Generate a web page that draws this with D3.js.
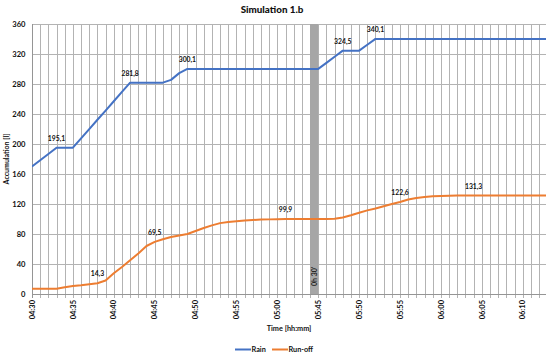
<!DOCTYPE html>
<html>
<head>
<meta charset="utf-8">
<script src="https://cdn.jsdelivr.net/npm/d3@7"></script>
<style>
  html, body { margin: 0; padding: 0; background: #fff; }
  svg { display: block; font-family: Lato, "Open Sans", sans-serif; }
</style>
</head>
<body>
<svg id="chart" width="550" height="356"></svg>
<script>
// ---- Data (one value per minute step on the category axis) ----
const tickLabels = ["04:30","04:35","04:40","04:45","04:50","04:55","05:00","05:45","05:50","05:55","06:00","06:05","06:10"];
const tickStep = 5;
const yTicks = [0, 40, 80, 120, 160, 200, 240, 280, 320, 360];

const rain = [
  170, 178.4, 186.7, 195.1, 195.1, 195.1, 207.5, 219.9, 232.3, 244.6,
  257.0, 269.4, 281.8, 281.8, 281.8, 281.8, 281.8, 285.5, 294.5, 300.1,
  300.1, 300.1, 300.1, 300.1, 300.1, 300.1, 300.1, 300.1, 300.1, 300.1,
  300.1, 300.1, 300.1, 300.1, 300.1, 300.1, 308.2, 316.3, 324.5, 324.5,
  324.5, 332.3, 340.1, 340.1, 340.1, 340.1, 340.1, 340.1, 340.1, 340.1,
  340.1, 340.1, 340.1, 340.1, 340.1, 340.1, 340.1, 340.1, 340.1, 340.1,
  340.1, 340.1, 340.1, 340.1
];
const runoff = [
  7, 7, 7, 7, 9, 10.7, 11.6, 12.9, 14.3, 18,
  27.6, 36, 45, 54, 64, 69.5, 73, 76, 78, 80,
  84, 88, 91.5, 94.5, 96, 97, 98, 98.7, 99.2, 99.5,
  99.7, 99.9, 99.9, 99.9, 99.9, 99.9, 99.9, 100.2, 102, 105,
  108.4, 111.5, 114, 117, 120, 122.6, 126, 128, 129.3, 130.2,
  130.7, 131, 131.2, 131.3, 131.3, 131.3, 131.3, 131.3, 131.3, 131.3,
  131.3, 131.3, 131.3, 131.3
];
const rainLabelIdx = [3, 12, 19, 38, 42];
const runoffLabelIdx = [8, 15, 31, 45, 54];
const breakIdx = [34, 35];          // grey band marking the time gap
const breakText = "0h 30'";
const seriesNames = ["Rain", "Run-off"];
const seriesColors = ["#4472C4", "#ED7D31"];

// ---- Layout ----
const svg = d3.select("#chart");
const pL = 32, pR = 546, pT = 24, pB = 294;
const x = d3.scaleLinear().domain([0, 62.85]).range([pL, pR]);
const y = d3.scaleLinear().domain([0, 360]).range([pB, pT]);
const textCol = "#111";
const gridCol = "#b3b3b3";
const fmt = v => d3.format(".1f")(v).replace(".", ",");

svg.append("defs").append("clipPath").attr("id", "plotclip")
  .append("rect").attr("x", pL).attr("y", pT - 5).attr("width", pR - pL).attr("height", pB - pT + 10);

// title
svg.append("text").attr("x", 272).attr("y", 12.5).attr("text-anchor", "middle")
  .attr("font-size", 9.8).attr("font-weight", "900").attr("fill", textCol).text("Simulation 1.b");

// horizontal gridlines
svg.append("g").selectAll("line").data(yTicks.filter(d => d > 0)).join("line")
  .attr("x1", pL).attr("x2", pR)
  .attr("y1", d => Math.round(y(d)) + 0.5).attr("y2", d => Math.round(y(d)) + 0.5)
  .attr("stroke", gridCol).attr("stroke-width", 1);

// vertical gridlines + ticks below axis
const vIdx = d3.range(0, 63);
svg.append("g").selectAll("line").data(vIdx).join("line")
  .attr("x1", d => Math.round(x(d)) + 0.5).attr("x2", d => Math.round(x(d)) + 0.5)
  .attr("y1", pT).attr("y2", pB + 4)
  .attr("stroke", d => d === 0 ? "#959595" : gridCol).attr("stroke-width", 1);

// x axis line
svg.append("line").attr("x1", pL).attr("x2", pR)
  .attr("y1", Math.round(y(0)) + 0.5).attr("y2", Math.round(y(0)) + 0.5)
  .attr("stroke", "#959595").attr("stroke-width", 1);

// grey break band
svg.append("rect")
  .attr("x", x(breakIdx[0])).attr("width", x(breakIdx[1]) - x(breakIdx[0]))
  .attr("y", pT).attr("height", pB - pT)
  .attr("fill", "#a6a6a6");
const bx = (x(breakIdx[0]) + x(breakIdx[1])) / 2;
svg.append("text")
  .attr("transform", `translate(${bx + 2.5},${pB - 8}) rotate(-90)`)
  .attr("font-size", 7).attr("font-weight", "bold").attr("fill", "#222")
  .text(breakText);

// y tick labels
svg.append("g").selectAll("text").data(yTicks).join("text")
  .attr("x", 25.5).attr("y", d => y(d) + 2.6).attr("text-anchor", "end")
  .attr("font-size", 7.6).attr("font-weight", "bold").attr("fill", textCol)
  .text(d => d);

// y axis title
svg.append("text")
  .attr("transform", `translate(8.5,${(pT + pB) / 2}) rotate(-90)`)
  .attr("text-anchor", "middle").attr("font-size", 7).attr("font-weight", "bold").attr("fill", textCol)
  .text("Accumulation [l]");

// x tick labels
svg.append("g").selectAll("text").data(tickLabels).join("text")
  .attr("transform", (d, i) => `translate(${x(i * tickStep) + 2.7},${pB + 6}) rotate(-90)`)
  .attr("text-anchor", "end").attr("font-size", 7.5).attr("font-weight", "bold").attr("fill", textCol)
  .text(d => d);

// x axis title
svg.append("text").attr("x", (pL + pR) / 2).attr("y", 331).attr("text-anchor", "middle")
  .attr("font-size", 7.3).attr("font-weight", "bold").attr("fill", textCol).text("Time [hh:mm]");

// lines
const line = d3.line().x((d, i) => x(i)).y(d => y(d));
const lg = svg.append("g").attr("clip-path", "url(#plotclip)");
[rain, runoff].forEach((s, k) => {
  lg.append("path").datum(s).attr("d", line)
    .attr("fill", "none").attr("stroke", seriesColors[k]).attr("stroke-width", 2)
    .attr("stroke-linejoin", "round");
});

// data labels
const labels = [[rain, rainLabelIdx], [runoff, runoffLabelIdx]];
labels.forEach(([s, idxs]) => {
  svg.append("g").selectAll("text").data(idxs).join("text")
    .attr("x", d => x(d)).attr("y", d => y(s[d]) - 7)
    .attr("text-anchor", "middle").attr("font-size", 6.8).attr("font-weight", "bold").attr("fill", textCol)
    .text(d => fmt(s[d]));
});

// legend
const legend = svg.append("g");
const legX = [235, 272];
seriesNames.forEach((n, k) => {
  legend.append("line").attr("x1", legX[k]).attr("x2", legX[k] + 16)
    .attr("y1", 349.5).attr("y2", 349.5).attr("stroke", seriesColors[k]).attr("stroke-width", 2);
  legend.append("text").attr("x", legX[k] + 16.5).attr("y", 352)
    .attr("font-size", 7.3).attr("font-weight", "bold").attr("fill", textCol).text(n);
});
</script>
</body>
</html>
